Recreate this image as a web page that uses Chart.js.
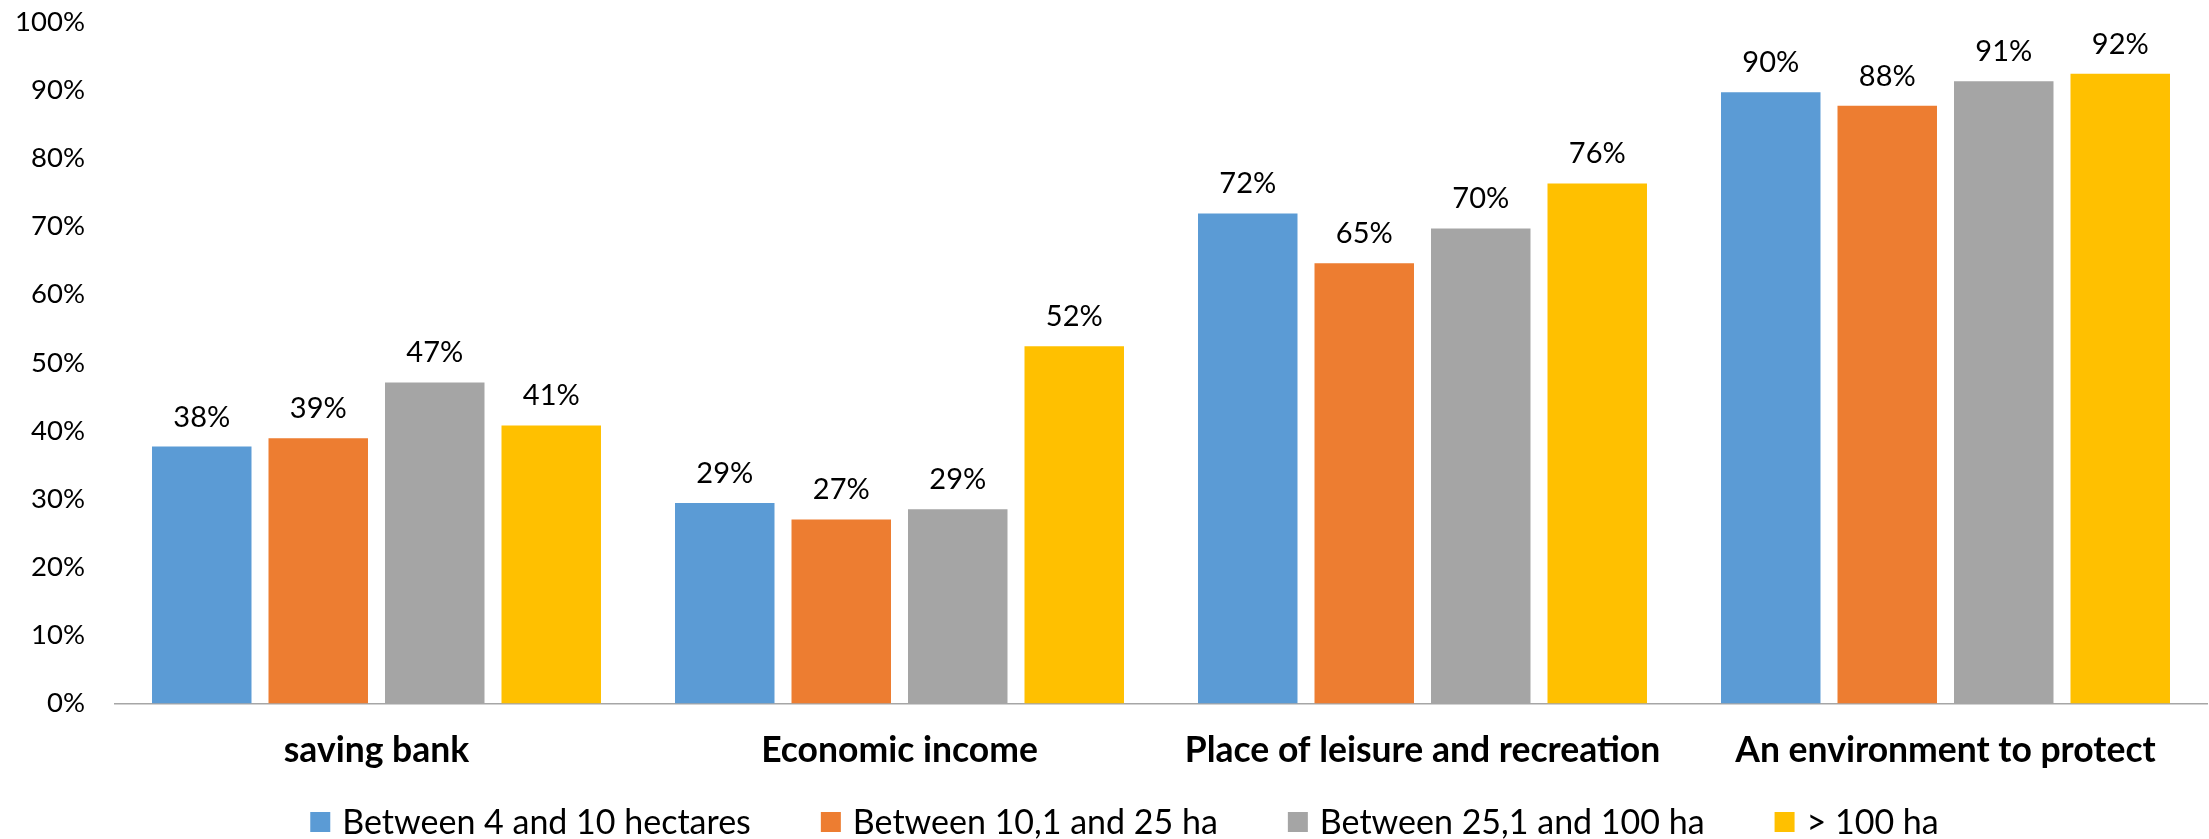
<!DOCTYPE html>
<html>
<head>
<meta charset="utf-8">
<script src="https://cdn.jsdelivr.net/npm/chart.js@4.4.1/dist/chart.umd.min.js"></script>
<style>
html,body{margin:0;padding:0;background:#fff;}
#wrap{width:2209px;height:839px;}
</style>
</head>
<body>
<div id="wrap"><canvas id="c" width="2209" height="839"></canvas></div>
<script>
const categories = ["saving bank", "Economic income", "Place of leisure and recreation", "An environment to protect"];
const seriesNames = ["Between 4 and 10 hectares", "Between 10,1 and 25 ha", "Between 25,1 and 100 ha", "> 100 ha"];
const seriesColors = ["#5B9BD5", "#ED7D31", "#A5A5A5", "#FFC000"];
const between4and10 = [37.7, 29.4, 71.9, 89.7];
const between10and25 = [38.9, 27.0, 64.6, 87.7];
const between25and100 = [47.1, 28.5, 69.7, 91.3];
const over100 = [40.8, 52.4, 76.3, 92.4];
const yTicks = [0, 10, 20, 30, 40, 50, 60, 70, 80, 90, 100];

const seriesValues = [between4and10, between10and25, between25and100, over100];

const dataLabelPlugin = {
  id: 'dataLabels',
  afterDatasetsDraw(chart) {
    const ctx = chart.ctx;
    ctx.save();
    ctx.font = '29px Lato';
    ctx.fillStyle = '#000';
    ctx.textAlign = 'center';
    ctx.textBaseline = 'alphabetic';
    chart.data.datasets.forEach((ds, i) => {
      const meta = chart.getDatasetMeta(i);
      meta.data.forEach((el, j) => {
        ctx.fillText(Math.round(ds.data[j]) + '%', el.x, el.y - 20);
      });
    });
    ctx.restore();
  }
};

// Excel-like legend: square, text, constant gap; centred under the chart
const legendPlugin = {
  id: 'excelLegend',
  afterDraw(chart) {
    const ctx = chart.ctx;
    const box = 20, textGap = 12, itemGap = 70;
    ctx.save();
    ctx.font = '34px Lato';
    ctx.textBaseline = 'middle';
    ctx.textAlign = 'left';
    const items = chart.data.datasets.map(ds => ({
      ds, w: box + textGap + ctx.measureText(ds.label).width
    }));
    const total = items.reduce((a, it) => a + it.w, 0) + itemGap * (items.length - 1);
    let x = chart.width / 2 + 20 - total / 2;
    const yc = 822;
    items.forEach(it => {
      ctx.fillStyle = it.ds.backgroundColor;
      ctx.fillRect(x, yc - box / 2, box, box);
      ctx.fillStyle = '#000';
      ctx.fillText(it.ds.label, x + box + textGap, yc + 1);
      x += it.w + itemGap;
    });
    ctx.restore();
  }
};

new Chart(document.getElementById('c'), {
  type: 'bar',
  data: {
    labels: categories,
    datasets: seriesNames.map((n, i) => ({
      label: n,
      data: seriesValues[i],
      backgroundColor: seriesColors[i],
      borderWidth: 0,
      categoryPercentage: 0.891,
      barPercentage: 0.854
    }))
  },
  options: {
    responsive: false,
    devicePixelRatio: 1,
    animation: false,
    layout: { padding: { left: 0, right: 2, top: 22, bottom: 41 } },
    plugins: {
      tooltip: { enabled: false },
      legend: { display: false }
    },
    scales: {
      x: {
        grid: { display: false, drawTicks: false },
        border: { display: true, color: '#A6A6A6', width: 1.5 },
        ticks: {
          font: { family: 'Lato', size: 35.5, weight: 'bold' },
          color: '#000',
          padding: 26
        }
      },
      y: {
        min: 0,
        max: 100,
        afterBuildTicks(axis) { axis.ticks = yTicks.map(v => ({ value: v })); },
        afterFit(scale) { scale.paddingTop = 0; scale.paddingBottom = 0; scale.width = 115; },
        grid: { display: false, drawTicks: false },
        border: { display: false },
        ticks: {
          font: { family: 'Lato', size: 27.5 },
          color: '#000',
          padding: 30,
          callback: v => v + '%'
        }
      }
    }
  },
  plugins: [dataLabelPlugin, legendPlugin]
});
</script>
</body>
</html>
